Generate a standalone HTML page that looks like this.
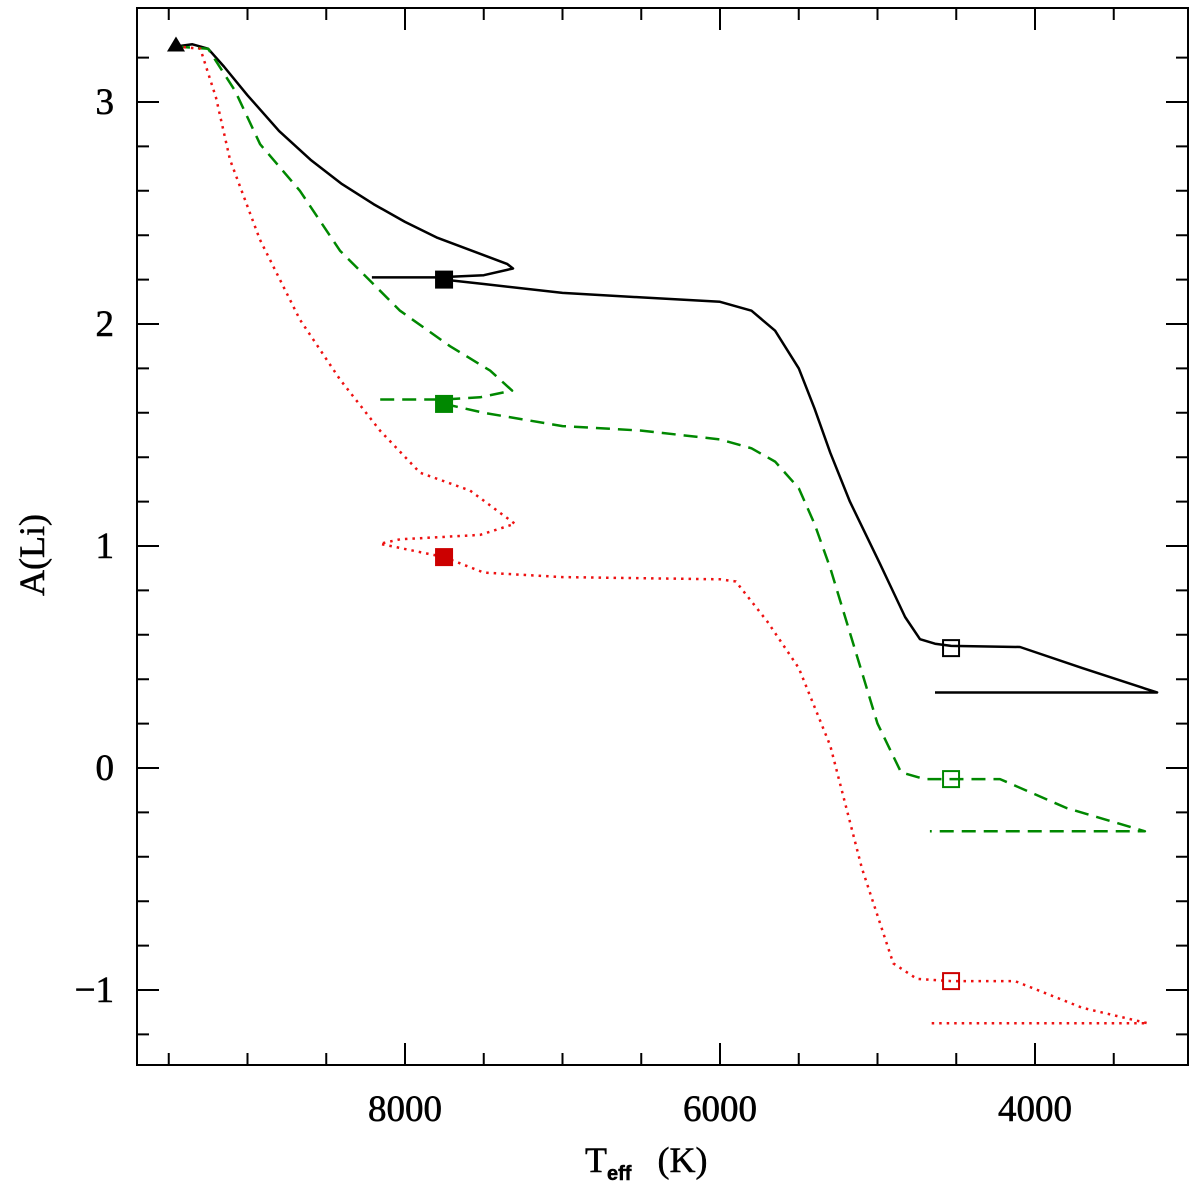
<!DOCTYPE html>
<html><head><meta charset="utf-8"><style>body{margin:0;background:#fff}svg{display:block}</style></head>
<body>
<svg id="chart" width="1200" height="1186" viewBox="0 0 1200 1186" xmlns="http://www.w3.org/2000/svg">
<g id="g"></g>
</svg>
<script>
const xTicksMajor = [8000, 6000, 4000];
const yTicksMajor = [3, 2, 1, 0, -1];
const blackT = [9454,9350,9250,9150,9000,8800,8600,8400,8200,8000,7800,7500,7350,7314,7500,7800,8210];
const blackA = [3.25,3.26,3.24,3.16,3.03,2.87,2.74,2.63,2.54,2.46,2.39,2.31,2.27,2.25,2.22,2.21,2.21];
const black2T = [7752,7500,7000,6500,6000,5800,5650,5500,5400,5300,5175,4984,4825,4730,4635,4533,4095,3700,3225,4635];
const black2A = [2.20,2.18,2.14,2.12,2.10,2.06,1.97,1.80,1.62,1.42,1.20,0.92,0.68,0.58,0.56,0.55,0.545,0.45,0.34,0.34];
const greenT = [9454,9250,9079,8920,8667,8413,8032,7714,7460,7320,7524,7752,8159];
const greenA = [3.25,3.24,3.05,2.81,2.60,2.33,2.06,1.90,1.79,1.70,1.67,1.66,1.66];
const green2T = [7752,7500,7000,6500,6000,5800,5650,5500,5400,5300,5150,5000,4850,4700,4533,4222,3800,3302,4667];
const green2A = [1.64,1.60,1.54,1.52,1.48,1.44,1.38,1.26,1.10,0.90,0.55,0.20,-0.02,-0.05,-0.05,-0.05,-0.18,-0.285,-0.285];
const redT = [9454,9300,9200,9111,8921,8667,8413,8159,7905,7587,7302,7524,8032,8159,7752];
const redA = [3.25,3.24,3.02,2.74,2.38,2.02,1.75,1.52,1.33,1.25,1.10,1.05,1.03,1.01,0.95];
const red2T = [7752,7500,7000,6000,5900,5700,5500,5300,5100,4900,4750,4533,4127,3700,3283,4667];
const red2A = [0.95,0.88,0.86,0.85,0.84,0.66,0.45,0.10,-0.45,-0.88,-0.95,-0.96,-0.96,-1.08,-1.15,-1.15];
const sqT = [7752,7752,7752,4533,4533,4533];
const sqA = [2.20,1.64,0.95,0.54,-0.05,-0.96];
const sqFill = ["#000","#008800","#cc0000","none","none","none"];
const sqStroke = ["#000","#008800","#cc0000","#000","#008800","#cc0000"];

const X = t => 405 + (8000 - t) * 0.1575;
const Y = a => 768 - a * 222;
const L = 137, R = 1188, T = 8, B = 1065;
const NS = "http://www.w3.org/2000/svg";
const g = document.getElementById('g');
function mk(tag, at, parent) { const e = document.createElementNS(NS, tag); for (const k in at) e.setAttribute(k, at[k]); (parent || g).appendChild(e); return e; }

const frame = mk('rect', {x:L, y:T, width:R-L, height:B-T, fill:'none', stroke:'#000', 'stroke-width':2});



for (let t = 9500; t >= 3500; t -= 500) {
  const major = t % 2000 === 0;
  const len = major ? 22 : 12;
  const x = X(t);
  const tk = mk('path', {d:`M${x},${B}v${-len}M${x},${T}v${len}`, stroke:'#000', 'stroke-width':2});
  
  
}
for (let k = -6; k <= 16; k++) {
  const a = k * 0.2;
  const y = Y(a);
  if (y < T || y > B) continue;
  const major = k % 5 === 0;
  const len = major ? 22 : 12;
  const tk = mk('path', {d:`M${L},${y}h${len}M${R},${y}h${-len}`, stroke:'#000', 'stroke-width':2});
  
  
}
xTicksMajor.forEach(t => {
  const tx = mk('text', {x:X(t), y:1121, 'text-anchor':'middle', 'font-family':'Liberation Serif, serif', 'font-size':37, 'stroke':'#000', 'stroke-width':0.6});
  tx.textContent = t;
  
  
});
yTicksMajor.forEach(a => {
  const tx = mk('text', {x:114, y:Y(a)+12, 'text-anchor':'end', 'font-family':'Liberation Serif, serif', 'font-size':37, 'stroke':'#000', 'stroke-width':0.6});
  tx.textContent = a < 0 ? '\u2212' + Math.abs(a) : a;
  
  
});
const yt = mk('text', {x:0, y:0, transform:'translate(44,555) rotate(-90)', 'text-anchor':'middle', 'font-family':'Liberation Serif, serif', 'font-size':36, 'stroke':'#000', 'stroke-width':0.5});
yt.textContent = 'A(Li)';


const xt = mk('text', {x:585, y:1172, 'font-family':'Liberation Serif, serif', 'font-size':36, 'stroke':'#000', 'stroke-width':0.5});
xt.innerHTML = 'T<tspan font-size="20" font-family="Liberation Sans, sans-serif" font-weight="bold" dy="8">eff</tspan><tspan dy="-8" dx="26">(K)</tspan>';



function line(ts, as, color, dash, name) {
  const d = ts.map((t, i) => (i ? 'L' : 'M') + X(t).toFixed(1) + ',' + Y(as[i]).toFixed(1)).join('');
  const p = mk('path', {d, fill:'none', stroke:color, 'stroke-width':2.5, 'stroke-dasharray':dash, 'stroke-linejoin':'round'});
  
  
}
line(blackT, blackA, '#000', 'none', 'black-solid-track-upper');
line(black2T, black2A, '#000', 'none', 'black-solid-track-lower');
line(greenT, greenA, '#008800', '14,8', 'green-dashed-track-upper');
line(green2T, green2A, '#008800', '14,8', 'green-dashed-track-lower');
line(redT, redA, '#ee1111', '2.5,5', 'red-dotted-track-upper');
line(red2T, red2A, '#ee1111', '2.5,5', 'red-dotted-track-lower');

sqT.forEach((t, i) => {
  const s = mk('rect', {x:X(t)-8, y:Y(sqA[i])-8, width:16, height:16, fill:sqFill[i], stroke:sqStroke[i], 'stroke-width':2});
  
  
});
const tri = mk('path', {d:`M${X(9454)},${Y(3.25)-10}l9,15h-18z`, fill:'#000'});


</script>
</body></html>
